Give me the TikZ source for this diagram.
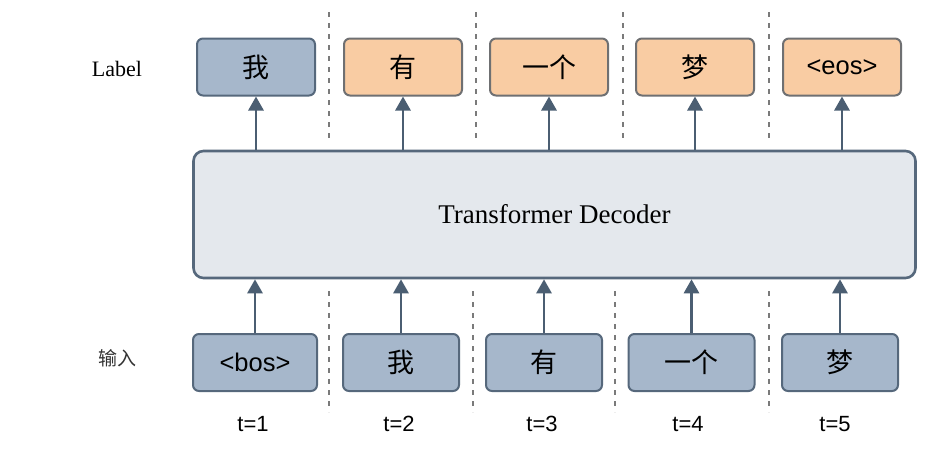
\documentclass[tikz,border=0pt]{standalone}
\usepackage{fontspec}
\setmainfont{Liberation Serif}
\newfontfamily\sansf{Liberation Sans}
\newfontfamily\cjk{Noto Sans CJK SC}
\usetikzlibrary{arrows.meta}
\definecolor{bluefill}{HTML}{A6B7CB}
\definecolor{blueedge}{HTML}{56687C}
\definecolor{orfill}{HTML}{F9CCA3}
\definecolor{oredge}{HTML}{6F7072}
\definecolor{decfill}{HTML}{E4E8ED}
\definecolor{arrcol}{HTML}{4B5E72}
\definecolor{dashcol}{HTML}{7A7A7A}
\tikzset{
  tok/.style={draw=blueedge, fill=bluefill, line width=2pt, rounded corners=6pt,
    minimum width=118pt, minimum height=57pt, inner sep=0pt, text=black},
  lab/.style={tok, draw=oredge, fill=orfill},
  arr/.style={draw=arrcol, line width=2.8pt, -{Triangle[length=14pt,width=15pt]}},
  sep/.style={draw=dashcol, line width=1.3pt, dash pattern=on 5pt off 6pt},
  cjkt/.style={font=\cjk\fontsize{27}{30}\selectfont},
  sanst/.style={font=\sansf\fontsize{25.5}{28}\selectfont},
  tlab/.style={font=\sansf\fontsize{22}{26}\selectfont, inner sep=0pt}
}
\begin{document}
\begin{tikzpicture}[x=1pt,y=-1pt]
\fill[white] (0,0) rectangle (940,450);
\useasboundingbox (0,0) rectangle (940,450);

% separators
\foreach \x in {329,476,623,769} \draw[sep] (\x,12) -- (\x,138);
\foreach \x in {329,473,615,769} \draw[sep] (\x,291) -- (\x,412);

% decoder
\node[draw=blueedge, fill=decfill, line width=2.6pt, rounded corners=10pt,
  minimum width=722pt, minimum height=127pt, inner sep=0pt,
  font=\fontsize{27}{30}\selectfont] (dec) at (554.5,214.5) {Transformer Decoder};

% side labels
\node[font=\fontsize{22}{26}\selectfont] (lbl) at (117,69) {Label};
\node[font=\cjk\fontsize{19}{22}\selectfont, text=black!80] (inp) at (117,358) {输入};

% top labels
\node[tok, cjkt] (l1) at (256,67) {我};
\node[lab, cjkt] (l2) at (403,67) {有};
\node[lab, cjkt] (l3) at (549,67) {一个};
\node[lab, cjkt] (l4) at (695,67) {梦};
\node[lab, sanst] (l5) at (842,67) {<eos>};

% bottom inputs
\node[tok, sanst, minimum width=124pt] (b1) at (255,362.5) {<bos>};
\node[tok, cjkt, minimum width=116pt] (b2) at (401,362.5) {我};
\node[tok, cjkt, minimum width=116pt] (b3) at (544,362.5) {有};
\node[tok, cjkt, minimum width=126pt] (b4) at (691.5,362.5) {一个};
\node[tok, cjkt, minimum width=116pt] (b5) at (840,362.5) {梦};

% time steps
\node[tlab] (t1) at (253,424) {t=1};
\node[tlab] (t2) at (399,424) {t=2};
\node[tlab] (t3) at (542,424) {t=3};
\node[tlab] (t4) at (688,424) {t=4};
\node[tlab] (t5) at (835,424) {t=5};

% arrows
\foreach \i in {1,...,5} {
  \draw[arr] (l\i.south |- dec.north) -- (l\i.south);
  \draw[arr] (b\i.north) -- (b\i.north |- dec.south);
}
\end{tikzpicture}
\end{document}
